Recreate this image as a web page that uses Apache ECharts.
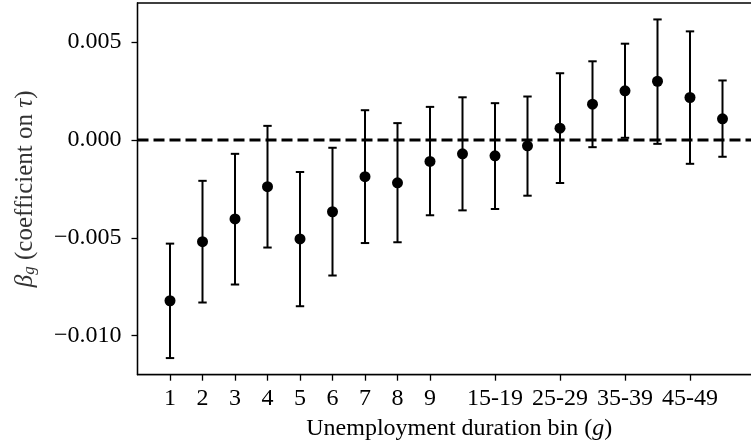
<!DOCTYPE html>
<html>
<head>
<meta charset="utf-8">
<script src="https://cdn.jsdelivr.net/npm/echarts@6/dist/echarts.min.js"></script>
<style>
  html, body { margin: 0; padding: 0; background: #fff; }
  #chart { width: 751px; height: 448px; }
</style>
</head>
<body>
<div id="chart"></div>
<script>
// Duration bins (position on the x axis) and the estimated coefficients
const binPos = [1, 2, 3, 4, 5, 6, 7, 8, 9, 10, 11, 12, 13, 14, 15, 16, 17, 18];
const beta = [-0.00822, -0.00520, -0.00404, -0.00239, -0.00506, -0.00367, -0.00188, -0.00219, -0.00110,
              -0.00071, -0.00081, -0.00030, 0.00060, 0.00183, 0.00251, 0.00300, 0.00217, 0.00108];
const ciLow = [-0.01115, -0.00831, -0.00739, -0.00550, -0.00850, -0.00693, -0.00527, -0.00523, -0.00385,
               -0.00360, -0.00353, -0.00285, -0.00220, -0.00037, 0.00011, -0.00020, -0.00122, -0.00086];
const ciHigh = [-0.00530, -0.00209, -0.00071, 0.00072, -0.00164, -0.00040, 0.00152, 0.00086, 0.00169,
                0.00218, 0.00188, 0.00222, 0.00341, 0.00402, 0.00492, 0.00616, 0.00555, 0.00304];

// Labelled x ticks
const xTickPos = [1, 2, 3, 4, 5, 6, 7, 8, 9, 11, 13, 15, 17];
const xTickLabels = ['1', '2', '3', '4', '5', '6', '7', '8', '9', '15-19', '25-29', '35-39', '45-49'];

// y ticks
const yTicks = [-0.010, -0.005, 0.000, 0.005];

const xMin = 0, xMax = 19.8;
const yMin = -0.0120, yMax = 0.0070;

const FONT = '"Liberation Serif", "DejaVu Serif", serif';
const FS = 24;

const chart = echarts.init(document.getElementById('chart'), null, { renderer: 'canvas' });

const option = {
  animation: false,
  backgroundColor: '#ffffff',
  textStyle: { fontFamily: FONT, color: '#000' },
  grid: {
    left: 137.5, top: 3, width: 643.5, height: 371.7,
    containLabel: false,
    outerBoundsMode: 'none',
    show: true, borderColor: '#000', borderWidth: 1.3, backgroundColor: 'transparent'
  },
  xAxis: {
    type: 'value',
    min: xMin, max: xMax,
    splitLine: { show: false },
    axisLine: { show: true, onZero: false, lineStyle: { color: '#000', width: 1.3 } },
    axisTick: { show: true, length: 6, inside: false, customValues: xTickPos, lineStyle: { color: '#000', width: 1.3 } },
    axisLabel: {
      show: true, margin: 12, fontSize: FS, fontFamily: FONT, color: '#000',
      customValues: xTickPos,
      formatter: function (v) {
        const i = xTickPos.indexOf(Math.round(v));
        return i >= 0 ? xTickLabels[i] : '';
      }
    },
    name: 'Unemployment duration bin ({i|g})',
    nameLocation: 'middle',
    nameGap: 42,
    nameTextStyle: {
      fontSize: FS, fontFamily: FONT, color: '#000',
      rich: { i: { fontSize: FS, fontFamily: FONT, fontStyle: 'italic', color: '#000' } }
    }
  },
  yAxis: {
    type: 'value',
    min: yMin, max: yMax,
    splitLine: { show: false },
    axisLine: { show: true, onZero: false, lineStyle: { color: '#000', width: 1.3 } },
    axisTick: { show: true, length: 6, inside: false, customValues: yTicks, lineStyle: { color: '#000', width: 1.3 } },
    axisLabel: {
      show: true, margin: 16, fontSize: FS, fontFamily: FONT, color: '#000',
      customValues: yTicks,
      formatter: function (v) {
        const s = Math.abs(v).toFixed(3);
        return v < -1e-9 ? '\u2212' + s : s;
      }
    },
    name: '{b|\u03b2}{s|g} (coefficient on {t|\u03c4})',
    nameLocation: 'middle',
    nameRotate: 90,
    nameGap: 99,
    nameTextStyle: {
      fontSize: 25, fontFamily: FONT, color: '#333',
      rich: {
        b: { fontSize: 25, fontFamily: FONT, fontStyle: 'italic', color: '#333' },
        s: { fontSize: 17, fontFamily: FONT, fontStyle: 'italic', color: '#333', verticalAlign: 'bottom', padding: [10, 0, 0, 0] },
        t: { fontSize: 25, fontFamily: FONT, fontStyle: 'italic', color: '#333' }
      }
    }
  },
  series: [
    {
      // horizontal reference line at zero
      type: 'line',
      data: [[xMin, 0], [xMax, 0]],
      symbol: 'none',
      silent: true,
      lineStyle: { color: '#000', width: 3, type: [11, 5] },
      z: 1
    },
    {
      // confidence intervals with caps
      type: 'custom',
      data: binPos.map((x, i) => [x, ciLow[i], ciHigh[i]]),
      encode: { x: 0, y: [1, 2] },
      renderItem: function (params, api) {
        const x = api.value(0);
        const pLo = api.coord([x, api.value(1)]);
        const pHi = api.coord([x, api.value(2)]);
        const cap = 4.2;
        const st = { stroke: '#000', lineWidth: 2 };
        return {
          type: 'group',
          children: [
            { type: 'line', shape: { x1: pLo[0], y1: pLo[1], x2: pHi[0], y2: pHi[1] }, style: st },
            { type: 'line', shape: { x1: pLo[0] - cap, y1: pLo[1], x2: pLo[0] + cap, y2: pLo[1] }, style: st },
            { type: 'line', shape: { x1: pHi[0] - cap, y1: pHi[1], x2: pHi[0] + cap, y2: pHi[1] }, style: st }
          ]
        };
      },
      z: 2
    },
    {
      // point estimates
      type: 'scatter',
      data: binPos.map((x, i) => [x, beta[i]]),
      symbol: 'circle',
      symbolSize: 11,
      itemStyle: { color: '#000', opacity: 1 },
      z: 3
    }
  ]
};

chart.setOption(option);
</script>
</body>
</html>
